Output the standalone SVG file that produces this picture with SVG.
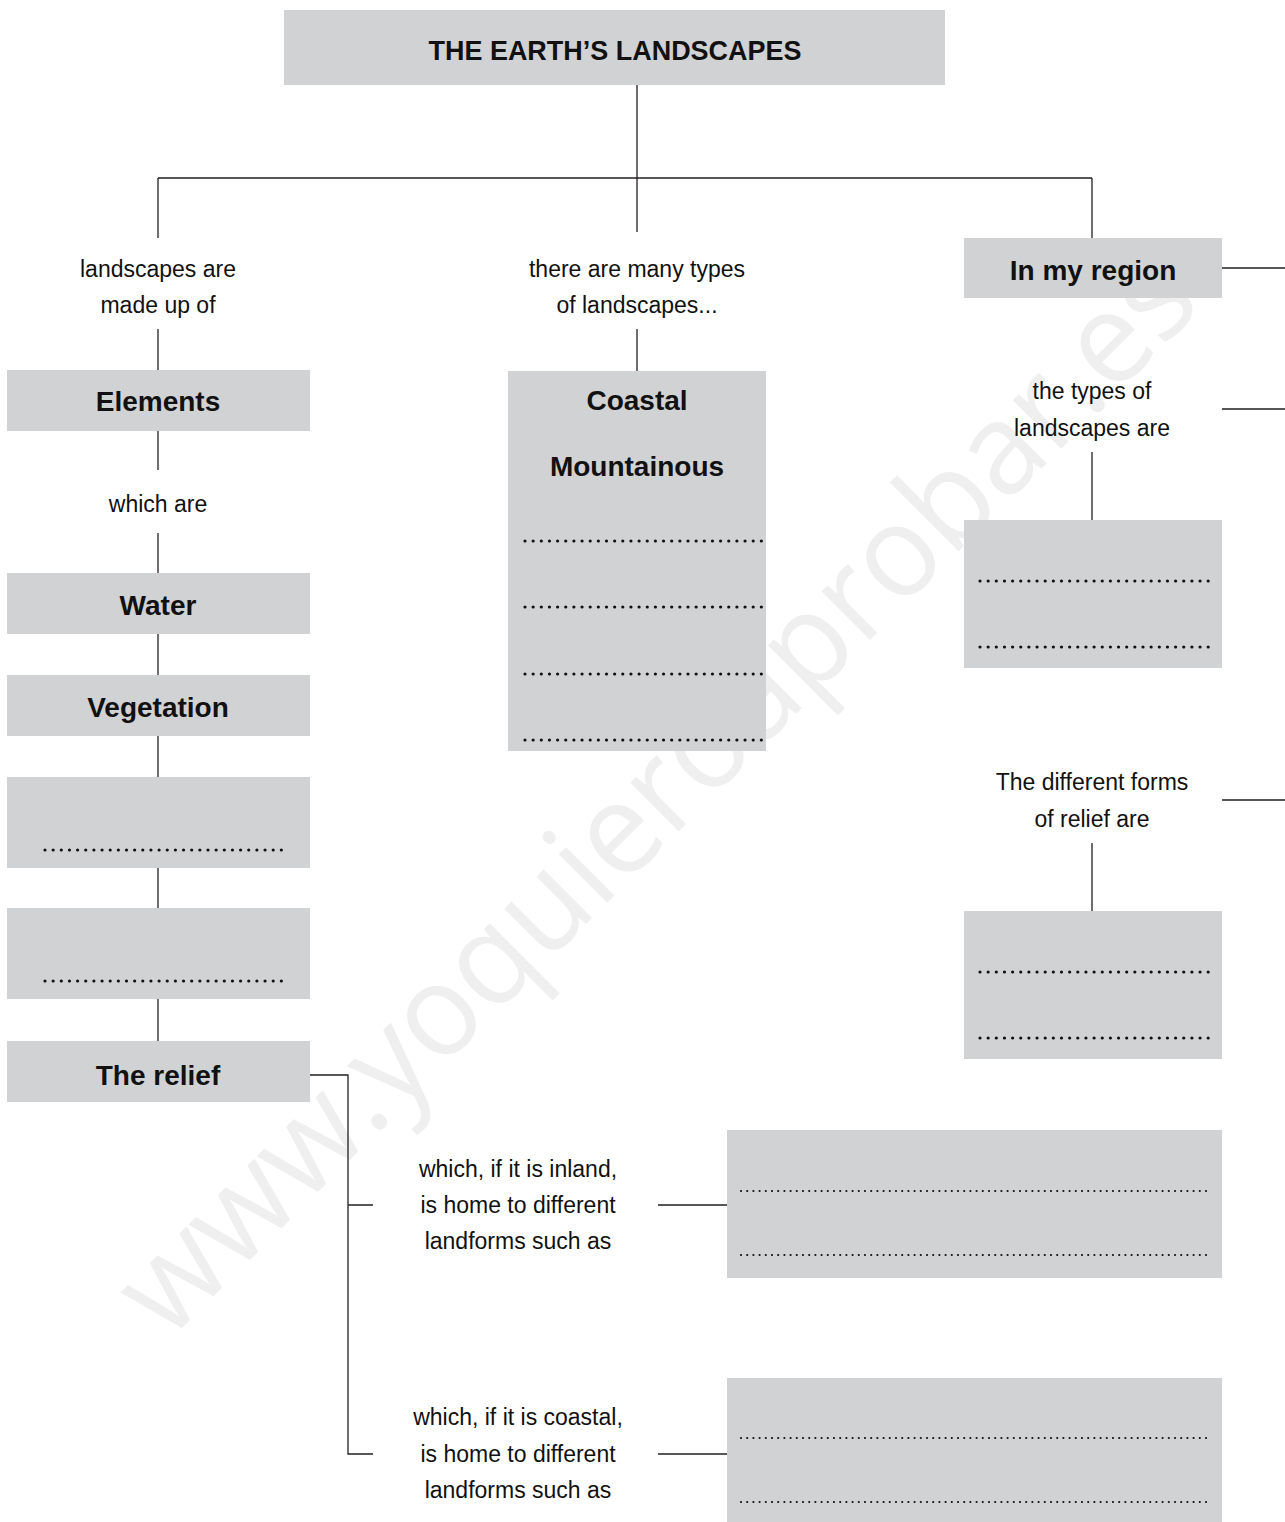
<svg xmlns="http://www.w3.org/2000/svg" width="1285" height="1522" viewBox="0 0 1285 1522">
<style>
.box{fill:#d1d2d4}
.t{font-family:"Liberation Sans",Arial,sans-serif;fill:#111;text-anchor:middle}
.b{font-weight:bold;font-size:28px}
.r{font-size:23px}
.c{stroke:#231f20;stroke-width:1.3;fill:none}
.d{stroke:#111;stroke-width:3.2;stroke-linecap:round;stroke-dasharray:0 8.15;fill:none}
.d2{stroke:#111;stroke-width:2.2;stroke-linecap:round;stroke-dasharray:0 6.2;fill:none}
.wm{font-family:"Open Sans","Liberation Sans",sans-serif;font-size:128px;fill:#efefef}
</style>
<rect width="1285" height="1522" fill="#fff"/>
<text class="wm" transform="translate(168 1342) rotate(-45)" textLength="1465" lengthAdjust="spacingAndGlyphs">www.yoquieroaprobar.es</text>
<g id="connectors">
<path class="c" d="M637 85V178M158 178H1092M158 178V238M637 178V232M1092 178V238"/>
<path class="c" d="M158 329V370M158 431V470M158 533V573M158 634V675M158 736V777M158 868V908M158 999V1041"/>
<path class="c" d="M637 329V371"/>
<path class="c" d="M1222 268H1285M1222 409H1285M1092 452V520M1222 800H1285M1092 843V911"/>
<path class="c" d="M310 1075H348V1454H373M348 1205H373M658 1205H727M658 1454H727"/>
</g>
<g id="title"><rect class="box" x="284" y="10" width="661" height="75"/><text class="t b" x="615" y="60" textLength="373" lengthAdjust="spacingAndGlyphs">THE EARTH’S LANDSCAPES</text></g>
<g id="lbl-made"><text class="t r" x="158" y="277">landscapes are</text><text class="t r" x="158" y="313">made up of</text></g>
<g id="elements"><rect class="box" x="7" y="370" width="303" height="61"/><text class="t b" x="158" y="411">Elements</text></g>
<g id="lbl-which"><text class="t r" x="158" y="512">which are</text></g>
<g id="water"><rect class="box" x="7" y="573" width="303" height="61"/><text class="t b" x="158" y="615">Water</text></g>
<g id="vegetation"><rect class="box" x="7" y="675" width="303" height="61"/><text class="t b" x="158" y="717">Vegetation</text></g>
<g id="blank1"><rect class="box" x="7" y="777" width="303" height="91"/><path class="d" d="M45 850H282"/></g>
<g id="blank2"><rect class="box" x="7" y="908" width="303" height="91"/><path class="d" d="M45 981H282"/></g>
<g id="relief"><rect class="box" x="7" y="1041" width="303" height="61"/><text class="t b" x="158" y="1085">The relief</text></g>
<g id="lbl-types"><text class="t r" x="637" y="277">there are many types</text><text class="t r" x="637" y="313">of landscapes...</text></g>
<g id="types"><rect class="box" x="508" y="371" width="258" height="380"/><text class="t b" x="637" y="410">Coastal</text><text class="t b" x="637" y="476">Mountainous</text><path class="d" d="M525 541H762M525 607H762M525 674H762M525 740H762"/></g>
<g id="region"><rect class="box" x="964" y="238" width="258" height="60"/><text class="t b" x="1093" y="280">In my region</text></g>
<g id="lbl-region-types"><text class="t r" x="1092" y="399">the types of</text><text class="t r" x="1092" y="436">landscapes are</text></g>
<g id="region-types"><rect class="box" x="964" y="520" width="258" height="148"/><path class="d" d="M980 581H1212M980 647H1212"/></g>
<g id="lbl-forms"><text class="t r" x="1092" y="790">The different forms</text><text class="t r" x="1092" y="827">of relief are</text></g>
<g id="forms"><rect class="box" x="964" y="911" width="258" height="148"/><path class="d" d="M980 972H1212M980 1038H1212"/></g>
<g id="lbl-inland"><text class="t r" x="518" y="1177">which, if it is inland,</text><text class="t r" x="518" y="1213">is home to different</text><text class="t r" x="518" y="1249">landforms such as</text></g>
<g id="inland"><rect class="box" x="727" y="1130" width="495" height="148"/><path class="d2" d="M741 1191H1212M741 1255H1212"/></g>
<g id="lbl-coastal"><text class="t r" x="518" y="1425">which, if it is coastal,</text><text class="t r" x="518" y="1462">is home to different</text><text class="t r" x="518" y="1498">landforms such as</text></g>
<g id="coastal"><rect class="box" x="727" y="1378" width="495" height="144"/><path class="d2" d="M741 1438H1212M741 1502H1212"/></g>
</svg>
